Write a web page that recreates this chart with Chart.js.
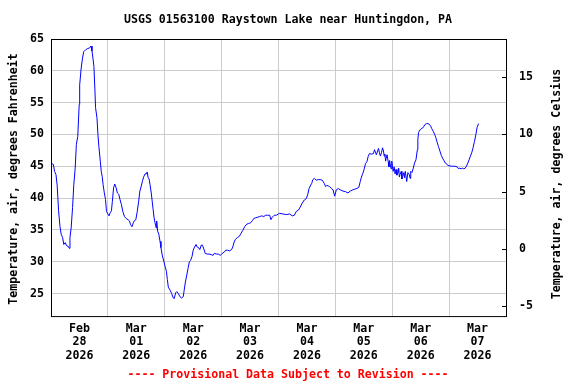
<!DOCTYPE html>
<html>
<head>
<meta charset="utf-8">
<script src="https://cdn.jsdelivr.net/npm/chart.js@4.4.1/dist/chart.umd.min.js"></script>
<style>
html, body { margin: 0; padding: 0; background: #fff; }
</style>
</head>
<body>
<canvas id="graph" width="576" height="384"></canvas>
<script>
// hours after Feb 28 2026 00:00
const hours = [
    0.3, 1.0, 1.5, 2.1, 2.6, 3.2, 3.8, 4.3, 4.9, 5.4,
    6.0, 6.6, 7.3, 7.7, 8.0, 8.5, 9.1, 9.6, 10.2, 10.7,
    11.3, 11.9, 12.1, 12.7, 13.3, 13.8, 14.6, 15.5, 16.3, 16.9,
    17.3, 17.7, 18.1, 18.5, 18.8, 19.4, 19.8, 20.2, 20.8, 21.2,
    21.6, 22.0, 22.5, 23.0, 23.4, 24.0, 24.5, 25.0, 25.5, 25.9,
    26.4, 26.9, 27.5, 28.0, 28.6, 29.1, 29.7, 30.3, 31.0, 31.7,
    32.5, 33.1, 33.6, 34.2, 34.7, 35.3, 35.8, 36.4, 37.0, 37.5,
    38.1, 38.6, 39.2, 39.7, 40.3, 40.6, 41.0, 41.4, 41.8, 42.3,
    42.7, 43.1, 43.5, 43.9, 44.4, 44.6, 45.0, 45.5, 46.0, 46.4,
    47.0, 47.6, 48.1, 48.7, 49.1, 49.5, 50.3, 50.9, 51.6, 52.0,
    52.6, 53.1, 53.7, 54.4, 55.1, 55.8, 56.2, 56.7, 57.3, 57.8,
    58.4, 58.9, 59.5, 60.0, 60.6, 61.2, 61.7, 62.3, 62.8, 63.4,
    63.9, 64.5, 65.1, 65.9, 66.7, 67.6, 68.4, 68.9, 69.8, 70.6,
    71.4, 72.0, 72.6, 73.1, 73.7, 74.5, 75.3, 76.2, 76.7, 77.3,
    77.8, 78.7, 79.5, 80.1, 80.9, 81.7, 82.6, 83.4, 84.2, 85.1,
    85.6, 86.4, 87.3, 88.1, 88.9, 89.8, 90.6, 91.4, 92.3, 92.8,
    93.4, 94.2, 95.1, 95.9, 96.5, 97.9, 99.3, 100.7, 101.8, 102.7,
    103.5, 104.4, 105.2, 106.0, 106.9, 107.7, 108.3, 108.9, 109.4, 110.0,
    110.5, 111.1, 111.9, 112.8, 113.6, 114.5, 115.3, 115.9, 116.4, 117.0,
    117.6, 118.3, 119.0, 119.7, 120.4, 121.2, 122.0, 123.2, 124.3, 125.3,
    126.3, 127.4, 128.2, 129.1, 129.9, 130.5, 131.0, 131.6, 132.2, 132.7,
    133.3, 133.8, 134.4, 135.2, 136.1, 136.5, 136.9, 137.3, 137.8, 138.2,
    138.6, 139.0, 139.5, 139.9, 140.3, 140.6, 140.9, 141.2, 141.4, 141.8,
    142.3, 142.6, 142.9, 143.1, 143.5, 143.8, 144.0, 144.4, 144.8, 145.2,
    145.6, 146.0, 146.5, 146.7, 147.0, 147.3, 147.8, 148.1, 148.4, 148.9,
    149.2, 149.5, 150.1, 150.6, 151.2, 151.5, 151.8, 152.3, 152.9, 153.4,
    154.0, 154.6, 154.8, 155.1, 155.7, 156.2, 156.8, 157.4, 157.9, 158.5,
    159.1, 159.6, 160.2, 160.7, 161.3, 161.9, 162.4, 163.0, 163.5, 164.1,
    164.7, 165.2, 165.8, 166.4, 166.9, 167.5, 168.0, 168.9, 169.7, 170.5,
    171.4, 172.0, 172.5, 173.1, 173.7, 174.2, 174.8, 175.3, 175.9, 176.4,
    177.0, 177.6, 178.1, 178.7, 179.3, 179.8, 180.4
];
const tempF = [
    45.4, 45.3, 44.2, 43.7, 42.0, 38.0, 35.5, 34.3, 33.8, 32.7,
    33.0, 32.5, 32.4, 32.1, 33.8, 35.3, 38.5, 42.0, 44.7, 48.4,
    49.7, 54.7, 57.8, 60.3, 62.0, 63.0, 63.3, 63.5, 63.6, 63.9,
    63.1, 62.0, 60.7, 57.3, 54.2, 52.6, 50.0, 48.1, 45.8, 44.2,
    43.4, 42.1, 40.8, 39.8, 37.9, 37.5, 37.2, 37.7, 38.0, 39.5,
    41.6, 42.2, 41.6, 40.8, 40.6, 39.8, 39.0, 37.9, 37.1, 36.8,
    36.6, 36.4, 35.8, 35.5, 36.1, 36.5, 36.6, 37.9, 39.5, 41.1,
    41.9, 42.7, 43.4, 43.8, 43.8, 44.1, 43.2, 43.0, 42.1, 40.8,
    39.5, 38.2, 36.9, 36.1, 35.3, 36.4, 34.8, 34.3, 33.2, 32.2,
    30.9, 30.1, 29.3, 28.5, 27.2, 26.0, 25.5, 25.0, 24.3, 24.2,
    25.1, 25.3, 25.0, 24.5, 24.3, 24.5, 25.5, 26.8, 27.9, 28.9,
    30.0, 30.2, 30.8, 31.8, 32.3, 32.7, 32.3, 32.2, 31.9, 32.6,
    32.6, 32.0, 31.3, 31.2, 31.2, 31.1, 31.0, 31.3, 31.2, 31.2,
    31.0, 31.2, 31.4, 31.5, 31.8, 31.8, 31.7, 31.9, 32.3, 33.1,
    33.5, 33.8, 34.0, 34.4, 34.9, 35.5, 35.9, 36.0, 36.1, 36.5,
    36.8, 36.9, 37.0, 37.1, 37.2, 37.1, 37.3, 37.3, 37.3, 36.6,
    37.0, 37.3, 37.3, 37.5, 37.6, 37.5, 37.4, 37.5, 37.2, 37.3,
    37.9, 38.1, 38.6, 39.2, 39.7, 39.9, 40.5, 41.5, 41.9, 42.3,
    42.9, 43.1, 42.8, 42.9, 42.9, 42.8, 42.3, 41.8, 42.0, 41.9,
    41.8, 41.5, 41.3, 40.3, 41.3, 41.5, 41.3, 41.1, 41.0, 40.8,
    41.1, 41.3, 41.4, 41.5, 41.7, 42.6, 43.3, 43.9, 44.6, 45.4,
    45.7, 46.5, 47.0, 46.9, 47.0, 47.6, 47.2, 46.8, 47.4, 47.8,
    47.1, 46.6, 47.2, 47.9, 47.4, 46.6, 46.9, 45.8, 46.2, 46.8,
    45.7, 44.9, 45.9, 45.4, 44.6, 45.8, 45.2, 44.2, 44.9, 43.8,
    44.5, 43.6, 44.1, 44.7, 43.3, 43.7, 44.2, 43.0, 43.4, 44.0,
    43.2, 44.2, 42.6, 44.0, 43.7, 43.1, 44.2, 44.0, 44.7, 45.5,
    46.0, 47.6, 49.2, 50.3, 50.7, 50.9, 51.0, 51.3, 51.6, 51.7,
    51.7, 51.6, 51.3, 50.9, 50.5, 50.0, 49.5, 48.7, 48.1, 47.4,
    46.7, 46.3, 45.9, 45.5, 45.4, 45.1, 45.1, 45.0, 45.0, 45.0,
    44.9, 44.6, 44.7, 44.6, 44.7, 44.6, 44.7, 45.0, 45.5, 46.0,
    46.6, 47.2, 47.9, 48.9, 50.0, 51.1, 51.7
];

const fTicks = [25, 30, 35, 40, 45, 50, 55, 60, 65];
const cTicks = [-5, 0, 5, 10, 15];
const dayTicks = [0, 24, 48, 72, 96, 120, 144, 168, 192];
const dayLabels = [
    ["Feb", "28", "2026"], ["Mar", "01", "2026"], ["Mar", "02", "2026"], ["Mar", "03", "2026"],
    ["Mar", "04", "2026"], ["Mar", "05", "2026"], ["Mar", "06", "2026"], ["Mar", "07", "2026"]
];

const mono = "'DejaVu Sans Mono', monospace";
const fMin = 21.45, fMax = 65;
const toC = f => (f - 32) * 5 / 9;
const tickFont = {family: mono, size: 11.6, weight: "bold", lineHeight: 1.16};

// frame, inner celsius ticks and axis titles
const decor = {
    id: "decor",
    afterDraw(chart) {
        const {ctx, chartArea: a, scales} = chart;
        ctx.save();
        ctx.strokeStyle = "#000";
        ctx.lineWidth = 1;
        ctx.strokeRect(a.left + 0.5, a.top + 0.5, a.right - a.left, a.bottom - a.top);
        ctx.beginPath();
        cTicks.forEach(c => {
            const y = Math.round(scales.y2.getPixelForValue(c)) + 0.5;
            ctx.moveTo(a.right - 4, y);
            ctx.lineTo(a.right, y);
        });
        ctx.stroke();

        ctx.fillStyle = "#000";
        ctx.font = "bold 11.6px " + mono;
        ctx.textAlign = "center";
        ctx.textBaseline = "middle";
        ctx.translate(14, 179);
        ctx.rotate(-Math.PI / 2);
        ctx.fillText("Temperature, air, degrees Fahrenheit", 0, 0);
        ctx.setTransform(1, 0, 0, 1, 0, 0);
        ctx.translate(557, 184);
        ctx.rotate(-Math.PI / 2);
        ctx.fillText("Temperature, air, degrees Celsius", 0, 0);
        ctx.restore();
    }
};

new Chart(document.querySelector("#graph"), {
    type: "line",
    data: {
        datasets: [{
            data: hours.map((h, i) => ({x: h, y: tempF[i]})),
            borderColor: "#0000ff",
            borderWidth: 1,
            pointRadius: 0,
            fill: false,
            tension: 0
        }]
    },
    options: {
        responsive: false,
        animation: false,
        layout: {padding: 0},
        plugins: {
            legend: {display: false},
            tooltip: {enabled: false},
            title: {
                display: true,
                text: "USGS 01563100 Raystown Lake near Huntingdon, PA",
                color: "#000",
                font: {family: mono, size: 11.6, weight: "bold", lineHeight: 1.2},
                padding: {top: 13, bottom: 12.08}
            },
            subtitle: {
                display: true,
                position: "bottom",
                text: "---- Provisional Data Subject to Revision ----",
                color: "#ff0000",
                font: {family: mono, size: 11.6, weight: "bold", lineHeight: 1.2},
                padding: {top: 0, bottom: 2}
            }
        },
        scales: {
            x: {
                type: "linear",
                min: 0,
                max: 192,
                afterBuildTicks: s => { s.ticks = dayTicks.map(v => ({value: v})); },
                afterFit: s => { s.height = 52; },
                grid: {color: "#cccccc", drawTicks: false},
                border: {display: false},
                ticks: {
                    autoSkip: false,
                    maxRotation: 0,
                    labelOffset: 28.44,
                    padding: 6,
                    color: "#000",
                    font: tickFont,
                    callback: (v, i) => dayLabels[i] || ""
                }
            },
            y: {
                position: "left",
                min: fMin,
                max: fMax,
                afterBuildTicks: s => { s.ticks = fTicks.map(v => ({value: v})); },
                afterFit: s => { s.width = 51; },
                grid: {color: "#cccccc", drawTicks: false},
                border: {display: false},
                ticks: {padding: 7, color: "#000", font: tickFont}
            },
            y2: {
                position: "right",
                min: toC(fMin),
                max: toC(fMax),
                afterBuildTicks: s => { s.ticks = cTicks.map(v => ({value: v})); },
                afterFit: s => { s.width = 70; },
                grid: {drawOnChartArea: false, drawTicks: false},
                border: {display: false},
                ticks: {padding: 13, color: "#000", font: tickFont}
            }
        }
    },
    plugins: [decor]
});
</script>
</body>
</html>
